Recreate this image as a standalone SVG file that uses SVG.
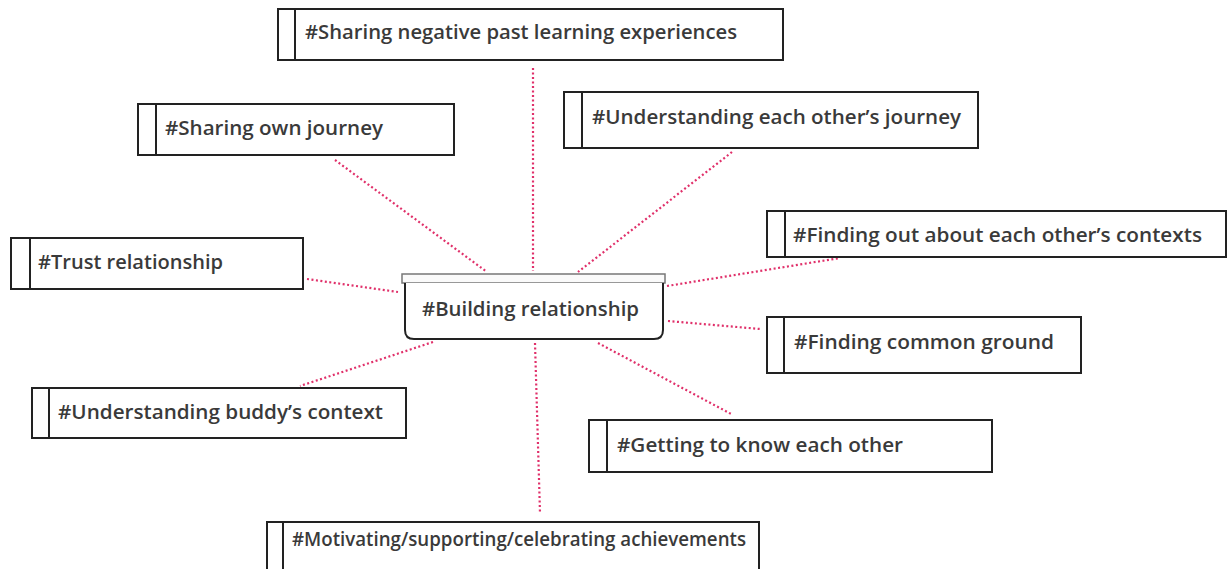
<svg xmlns="http://www.w3.org/2000/svg" width="1231" height="569" viewBox="0 0 1231 569">
<style>
.box{fill:#fff;stroke:#222;stroke-width:2}
.div{stroke:#222;stroke-width:2}
.t{font-family:"Open Sans","Liberation Sans",sans-serif;font-size:20px;fill:#3a3a3a;font-weight:600}
.c{stroke:#e0306a;stroke-width:2.2;stroke-dasharray:2 2.5;fill:none}
</style>
<rect width="1231" height="569" fill="#fff"/>
<g id="connectors">
<line class="c" x1="533" y1="68" x2="533" y2="271"/>
<line class="c" x1="335" y1="160" x2="487" y2="272"/>
<line class="c" x1="732" y1="152" x2="578" y2="272"/>
<line class="c" x1="307" y1="279" x2="398" y2="292"/>
<line class="c" x1="667" y1="286" x2="840" y2="258"/>
<line class="c" x1="668" y1="321" x2="760" y2="329"/>
<line class="c" x1="433" y1="342" x2="300" y2="386"/>
<line class="c" x1="598" y1="343" x2="733" y2="415"/>
<line class="c" x1="535" y1="343" x2="540" y2="513"/>
</g>
<g id="n1"><rect class="box" x="278" y="9" width="505" height="51"/><line class="div" x1="295" y1="9" x2="295" y2="60"/><text class="t" x="305" y="39" textLength="432" lengthAdjust="spacingAndGlyphs">#Sharing negative past learning experiences</text></g>
<g id="n2"><rect class="box" x="138" y="104" width="316" height="51"/><line class="div" x1="156" y1="104" x2="156" y2="155"/><text class="t" x="165" y="135" textLength="218" lengthAdjust="spacingAndGlyphs">#Sharing own journey</text></g>
<g id="n3"><rect class="box" x="564" y="92" width="414" height="56"/><line class="div" x1="582" y1="92" x2="582" y2="148"/><text class="t" x="592" y="124" textLength="369" lengthAdjust="spacingAndGlyphs">#Understanding each other’s journey</text></g>
<g id="n4"><rect class="box" x="11" y="238" width="292" height="51"/><line class="div" x1="30" y1="238" x2="30" y2="289"/><text class="t" x="38" y="269" textLength="185" lengthAdjust="spacingAndGlyphs">#Trust relationship</text></g>
<g id="n5"><rect class="box" x="767" y="211" width="459" height="46"/><line class="div" x1="785" y1="211" x2="785" y2="257"/><text class="t" x="793" y="242" textLength="409" lengthAdjust="spacingAndGlyphs">#Finding out about each other’s contexts</text></g>
<g id="center">
<rect x="402" y="274" width="263" height="9" fill="#fafafa" stroke="#777" stroke-width="1.5"/>
<path d="M405 283 V330 Q405 339 414 339 H654 Q663 339 663 330 V283" fill="#fff" stroke="#222" stroke-width="2"/>
<text class="t" x="422" y="316" textLength="217" lengthAdjust="spacingAndGlyphs">#Building relationship</text>
</g>
<g id="n7"><rect class="box" x="767" y="317" width="314" height="56"/><line class="div" x1="784" y1="317" x2="784" y2="373"/><text class="t" x="794" y="349" textLength="260" lengthAdjust="spacingAndGlyphs">#Finding common ground</text></g>
<g id="n8"><rect class="box" x="32" y="388" width="374" height="50"/><line class="div" x1="49" y1="388" x2="49" y2="438"/><text class="t" x="58" y="419" textLength="325" lengthAdjust="spacingAndGlyphs">#Understanding buddy’s context</text></g>
<g id="n9"><rect class="box" x="589" y="420" width="403" height="52"/><line class="div" x1="607" y1="420" x2="607" y2="472"/><text class="t" x="617" y="452" textLength="286" lengthAdjust="spacingAndGlyphs">#Getting to know each other</text></g>
<g id="n10"><rect class="box" x="267" y="522" width="492" height="60"/><line class="div" x1="283" y1="522" x2="283" y2="582"/><text class="t" x="292" y="546" textLength="454" lengthAdjust="spacingAndGlyphs">#Motivating/supporting/celebrating achievements</text></g>
</svg>
